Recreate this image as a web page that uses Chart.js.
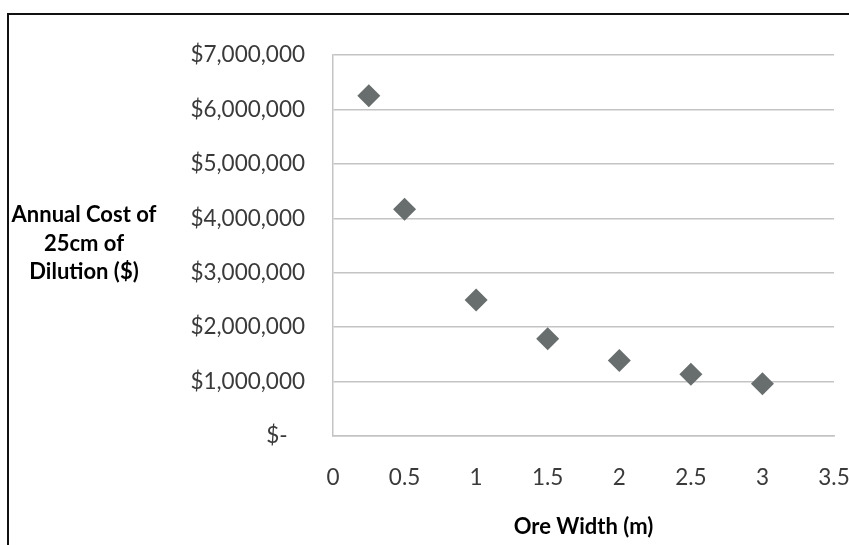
<!DOCTYPE html>
<html lang="en">

<head>
    <meta charset="UTF-8">
    <title>Annual Cost of Dilution</title>
    <script src="https://cdn.jsdelivr.net/npm/chart.js@4.4.0/dist/chart.umd.min.js"></script>
    <style>
        body { margin: 0; background: #fff; }
        #wrap { position: relative; width: 849px; height: 545px; overflow: hidden; }
        #frame { position: absolute; left: 7px; top: 13px; width: 900px; height: 600px;
                 border-left: 2px solid #111; border-top: 2px solid #111; pointer-events: none; }
    </style>
</head>

<body>
    <div id="wrap">
        <canvas id="chart" width="849" height="545"></canvas>
        <div id="frame"></div>
    </div>

    <script type="text/javascript">

        // ore width (m) and annual cost of 25cm dilution ($)
        const oreWidth = [0.25, 0.5, 1, 1.5, 2, 2.5, 3];
        const annualCost = [6250000, 4167000, 2500000, 1786000, 1389000, 1136000, 962000];
        const yTitleLines = ["Annual Cost of", "25cm of", "Dilution ($)"];
        const xTitle = "Ore Width (m)";

        const FONT = "Lato, 'Open Sans', sans-serif";

        function money(v) {
            if (v === 0) return "$-   ";
            return "$" + v.toLocaleString("en-US");
        }

        // horizontal y axis title like the excel original
        const sideTitle = {
            id: 'sideTitle',
            afterDraw(chart) {
                const ctx = chart.ctx;
                ctx.save();
                ctx.font = "bold 22px " + FONT;
                ctx.fillStyle = "#000";
                ctx.textAlign = "center";
                ctx.textBaseline = "middle";
                yTitleLines.forEach(function (line, i) {
                    ctx.fillText(line, 84, 215 + i * 28.5);
                });
                ctx.restore();
            }
        };

        const ctx = document.getElementById('chart').getContext('2d');
        const myChart = new Chart(ctx, {
            type: 'scatter',
            data: {
                datasets: [{
                    label: 'Annual Cost',
                    data: oreWidth.map((w, i) => ({ x: w, y: annualCost[i] })),
                    pointStyle: 'rectRot',
                    pointRadius: 11.5,
                    pointHoverRadius: 11.5,
                    backgroundColor: '#686d6d',
                    borderColor: '#686d6d',
                    borderWidth: 0
                }]
            },
            options: {
                responsive: false,
                animation: false,
                layout: { padding: { left: 0, right: 15, top: 55, bottom: 0 } },
                plugins: {
                    legend: { display: false },
                    tooltip: { enabled: false }
                },
                scales: {
                    x: {
                        type: 'linear',
                        min: 0,
                        max: 3.5,
                        ticks: {
                            stepSize: 0.5,
                            padding: 28,
                            color: '#3a3a3a',
                            font: { family: FONT, size: 22.5 },
                            callback: (v) => String(v)
                        },
                        grid: { display: false, drawTicks: false },
                        border: { display: true, color: '#c4c4c4', width: 1.5 },
                        title: {
                            display: true,
                            text: xTitle,
                            color: '#000',
                            font: { family: FONT, size: 22, weight: 'bold' },
                            padding: { top: 0, bottom: 5 }
                        },
                        afterFit(scale) {
                            scale.height = 545 - 436;
                            scale.paddingLeft = 0;
                            scale.paddingRight = 0;
                        }
                    },
                    y: {
                        min: 0,
                        max: 7000000,
                        ticks: {
                            stepSize: 1000000,
                            padding: 28,
                            color: '#3a3a3a',
                            font: { family: FONT, size: 22.5 },
                            callback: (v) => money(v)
                        },
                        grid: { color: '#c4c4c4', lineWidth: 1.5, drawTicks: false },
                        border: { display: true, color: '#c4c4c4', width: 1.5 },
                        afterFit(scale) { scale.width = 333; }
                    }
                }
            },
            plugins: [sideTitle]
        });

    </script>

</body>

</html>
